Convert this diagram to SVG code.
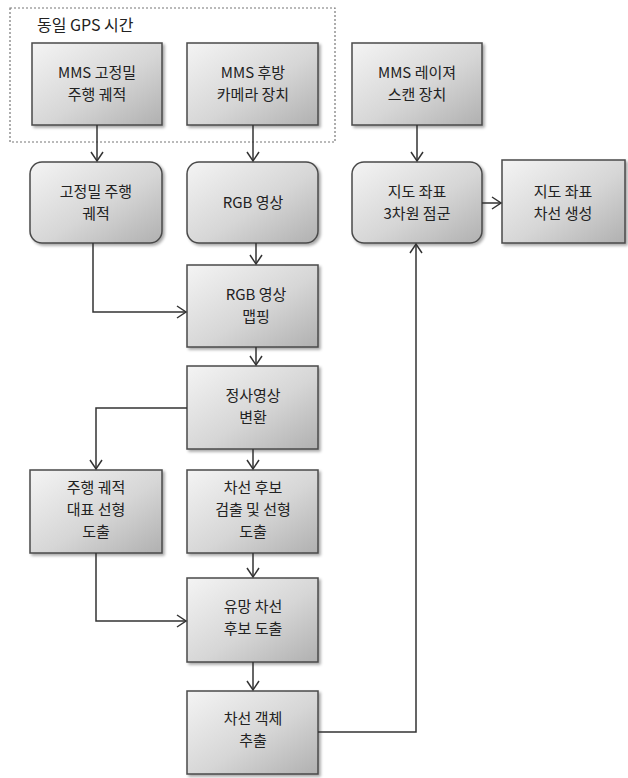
<svg xmlns="http://www.w3.org/2000/svg" width="628" height="778" viewBox="0 0 628 778">
<defs>
<linearGradient id="g" x1="0" y1="0" x2="1" y2="1">
<stop offset="0" stop-color="#f4f4f4"/>
<stop offset="0.55" stop-color="#d6d6d6"/>
<stop offset="1" stop-color="#b0b0b0"/>
</linearGradient>
<filter id="sh" x="-10%" y="-10%" width="125%" height="125%">
<feGaussianBlur in="SourceAlpha" stdDeviation="1.5"/>
<feOffset dx="2" dy="2" result="b"/>
<feComponentTransfer><feFuncA type="linear" slope="0.35"/></feComponentTransfer>
<feMerge><feMergeNode/><feMergeNode in="SourceGraphic"/></feMerge>
</filter>
<marker id="arr" markerWidth="12" markerHeight="14" refX="10" refY="7" orient="auto" markerUnits="userSpaceOnUse">
<path d="M1,1 L10,7 L1,13" fill="none" stroke="#333" stroke-width="1.5"/>
</marker>
</defs>
<style>
.box{fill:url(#g);stroke:#4a4a4a;stroke-width:1.5;filter:url(#sh)}
.t{font-family:"Noto Sans CJK KR","Noto Sans",sans-serif;font-size:15px;fill:#222;text-anchor:middle}
.c{fill:none;stroke:#333;stroke-width:1.5;marker-end:url(#arr)}
</style>
<rect width="628" height="778" fill="#fff"/>
<g id="gps-group">
<rect x="10" y="8" width="325" height="134" fill="none" stroke="#777" stroke-width="1.2" stroke-dasharray="2,2"/>
<text class="t" x="37" y="31" style="text-anchor:start;font-size:16px">동일 GPS 시간</text>
</g>
<g id="n1"><rect class="box" x="32" y="43" width="130" height="82"/>
<text class="t" x="97" y="78">MMS 고정밀</text><text class="t" x="97" y="100">주행 궤적</text></g>
<g id="n2"><rect class="box" x="187" y="43" width="131" height="82"/>
<text class="t" x="253" y="78">MMS 후방</text><text class="t" x="253" y="100">카메라 장치</text></g>
<g id="n3"><rect class="box" x="352" y="43" width="130" height="82"/>
<text class="t" x="417" y="78">MMS 레이져</text><text class="t" x="417" y="100">스캔 장치</text></g>
<g id="n4"><rect class="box" x="30" y="162" width="132" height="81" rx="12"/>
<text class="t" x="96" y="197">고정밀 주행</text><text class="t" x="96" y="219">궤적</text></g>
<g id="n5"><rect class="box" x="187" y="162" width="131" height="81" rx="12"/>
<text class="t" x="253" y="208">RGB 영상</text></g>
<g id="n6"><rect class="box" x="352" y="162" width="130" height="81" rx="12"/>
<text class="t" x="417" y="197">지도 좌표</text><text class="t" x="417" y="219">3차원 점군</text></g>
<g id="n7"><rect class="box" x="502" y="160" width="123" height="83"/>
<text class="t" x="563" y="197">지도 좌표</text><text class="t" x="563" y="219">차선 생성</text></g>
<g id="n8"><rect class="box" x="187" y="265" width="131" height="82"/>
<text class="t" x="256" y="300">RGB 영상</text><text class="t" x="256" y="322">맵핑</text></g>
<g id="n9"><rect class="box" x="187" y="366" width="131" height="83"/>
<text class="t" x="253" y="401">정사영상</text><text class="t" x="253" y="423">변환</text></g>
<g id="n10"><rect class="box" x="30" y="470" width="132" height="83"/>
<text class="t" x="96" y="493">주행 궤적</text><text class="t" x="96" y="515">대표 선형</text><text class="t" x="96" y="537">도출</text></g>
<g id="n11"><rect class="box" x="187" y="470" width="131" height="83"/>
<text class="t" x="253" y="493">차선 후보</text><text class="t" x="253" y="515">검출 및 선형</text><text class="t" x="253" y="537">도출</text></g>
<g id="n12"><rect class="box" x="187" y="578" width="131" height="84"/>
<text class="t" x="253" y="612">유망 차선</text><text class="t" x="253" y="634">후보 도출</text></g>
<g id="n13"><rect class="box" x="187" y="691" width="131" height="83"/>
<text class="t" x="253" y="724">차선 객체</text><text class="t" x="253" y="746">추출</text></g>
<g id="connectors">
<path class="c" d="M97,125 V161"/>
<path class="c" d="M253,125 V161"/>
<path class="c" d="M417,125 V161"/>
<path class="c" d="M93,243 V312 H186"/>
<path class="c" d="M256,243 V264"/>
<path class="c" d="M256,347 V365"/>
<path class="c" d="M187,408 H96 V469"/>
<path class="c" d="M253,449 V469"/>
<path class="c" d="M96,553 V621 H186"/>
<path class="c" d="M253,553 V577"/>
<path class="c" d="M253,662 V690"/>
<path class="c" d="M318,732 H416 V244"/>
<path class="c" d="M482,203 H501"/>
</g>
</svg>
